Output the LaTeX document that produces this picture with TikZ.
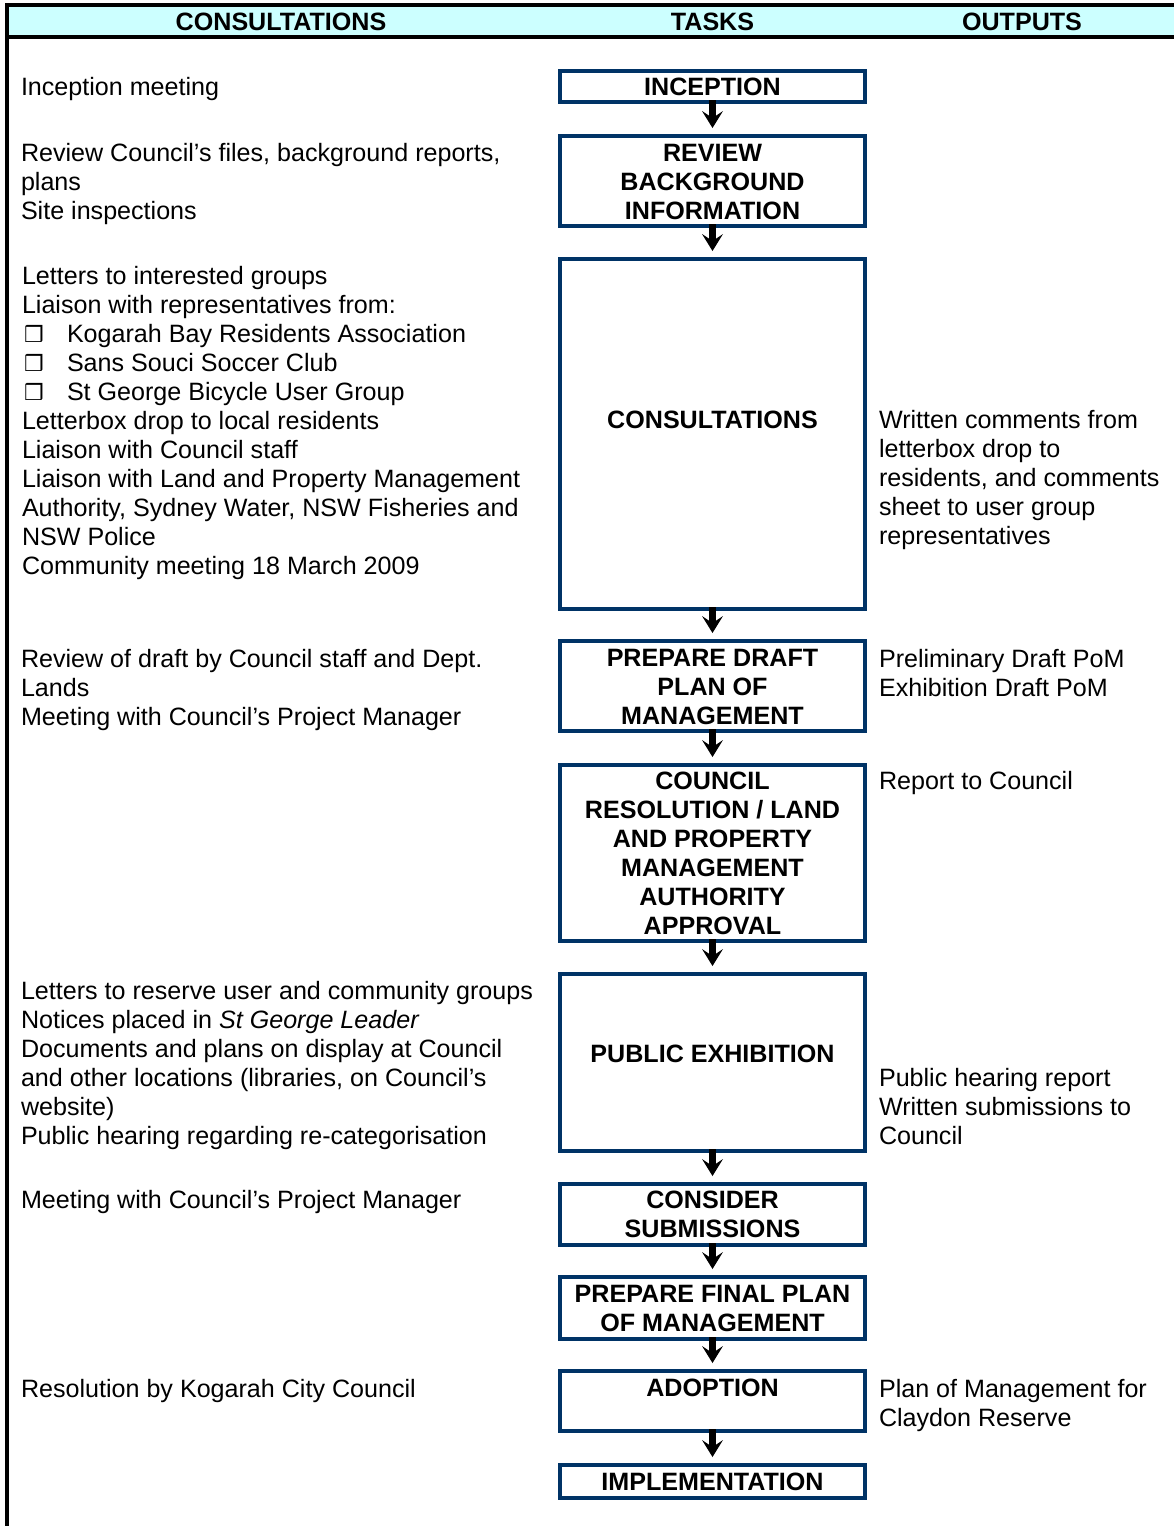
\documentclass[tikz,border=0pt]{standalone}
\usepackage{fontspec}
\setmainfont{Liberation Sans}
\newfontfamily\dejavu{DejaVu Sans}
\usetikzlibrary{arrows.meta}
\definecolor{navy}{HTML}{003366}
\definecolor{hdrcyan}{HTML}{CCFFFF}
\newcommand{\cbx}{\makebox[45pt][l]{\hspace{2pt}{\dejavu\bfseries\fontsize{22}{29}\selectfont ❒}}}
\begin{document}
\begin{tikzpicture}[x=1pt,y=-1pt,
  every node/.style={inner sep=0pt, outer sep=0pt},
  txt/.style={font=\fontsize{25.1}{29}\selectfont, align=left, anchor=base west},
  btxt/.style={font=\fontsize{25.1}{29}\selectfont\bfseries, align=center, anchor=base},
  tbox/.style={draw=navy, line width=4pt, minimum width=305pt},
  flow/.style={line width=7pt, -{Stealth[length=17pt,width=21pt,inset=7pt,line width=0pt]}},
  rule/.style={line width=4pt, black}
]
\useasboundingbox (0,0) rectangle (1174,1526);
% header
\fill[hdrcyan] (7,5) rectangle (1174,37);
\draw[rule] (5,5) -- (1174,5);
\draw[rule] (5,37) -- (1174,37);
\draw[rule] (7,3) -- (7,1526);
\node[btxt] (hc) at (281,30) {CONSULTATIONS};
\node[btxt] (ht) at (712.5,30) {TASKS};
\node[btxt] (ho) at (1022,30) {OUTPUTS};

% boxes
\node[tbox, minimum height=31pt]  (b1)  at (712.5,86.5) {};
\node[tbox, minimum height=90pt]  (b2)  at (712.5,181) {};
\node[tbox, minimum height=350pt] (b3)  at (712.5,434) {};
\node[tbox, minimum height=90pt]  (b4)  at (712.5,686) {};
\node[tbox, minimum height=176pt] (b5)  at (712.5,853) {};
\node[tbox, minimum height=177pt] (b6)  at (712.5,1062.5) {};
\node[tbox, minimum height=61pt]  (b7)  at (712.5,1214.5) {};
\node[tbox, minimum height=62pt]  (b8)  at (712.5,1308) {};
\node[tbox, minimum height=60pt]  (b9)  at (712.5,1401) {};
\node[tbox, minimum height=33pt]  (b10) at (712.5,1481.5) {};

% box texts (anchor base = baseline of last line)
\node[btxt] (t1) at (712.5,95) {INCEPTION};
\node[btxt] (t2) at (712.5,219) {REVIEW\\BACKGROUND\\INFORMATION};
\node[btxt] (t3) at (712.5,428) {CONSULTATIONS};
\node[btxt] (t4) at (712.5,724) {PREPARE DRAFT\\PLAN OF\\MANAGEMENT};
\node[btxt] (t5) at (712.5,934) {COUNCIL\\RESOLUTION / LAND\\AND PROPERTY\\MANAGEMENT\\AUTHORITY\\APPROVAL};
\node[btxt] (t6) at (712.5,1062) {PUBLIC EXHIBITION};
\node[btxt] (t7) at (712.5,1237) {CONSIDER\\SUBMISSIONS};
\node[btxt] (t8) at (712.5,1331) {PREPARE FINAL PLAN\\OF MANAGEMENT};
\node[btxt] (t9) at (712.5,1396) {ADOPTION};
\node[btxt] (t10) at (712.5,1490) {IMPLEMENTATION};

% arrows
\foreach \a/\b in {b1/b2,b2/b3,b3/b4,b4/b5,b5/b6,b6/b7,b7/b8,b8/b9,b9/b10}
  \draw[flow] ([yshift=2pt]\a.south) -- ([yshift=8pt]\b.north);

% left column
\node[txt] (l1) at (21,95) {Inception meeting};
\node[txt] (l2) at (21,219) {Review Council’s files, background reports,\\plans\\Site inspections};
\node[txt] (l3) at (22,574) {Letters to interested groups\\Liaison with representatives from:\\\cbx Kogarah Bay Residents Association\\\cbx Sans Souci Soccer Club\\\cbx St George Bicycle User Group\\Letterbox drop to local residents\\Liaison with Council staff\\Liaison with Land and Property Management\\Authority, Sydney Water, NSW Fisheries and\\NSW Police\\Community meeting 18 March 2009};
\node[txt] (l4) at (21,725) {Review of draft by Council staff and Dept.\\Lands\\Meeting with Council’s Project Manager};
\node[txt] (l5) at (21,1144) {Letters to reserve user and community groups\\Notices placed in \textit{St George Leader}\\Documents and plans on display at Council\\and other locations (libraries, on Council’s\\website)\\Public hearing regarding re-categorisation};
\node[txt] (l6) at (21,1208) {Meeting with Council’s Project Manager};
\node[txt] (l7) at (21,1397) {Resolution by Kogarah City Council};

% right column
\node[txt] (r1) at (879,544) {Written comments from\\letterbox drop to\\residents, and comments\\sheet to user group\\representatives};
\node[txt] (r2) at (879,696) {Preliminary Draft PoM\\Exhibition Draft PoM};
\node[txt] (r3) at (879,789) {Report to Council};
\node[txt] (r4) at (879,1144) {Public hearing report\\Written submissions to\\Council};
\node[txt] (r5) at (879,1426) {Plan of Management for\\Claydon Reserve};
\end{tikzpicture}
\end{document}
